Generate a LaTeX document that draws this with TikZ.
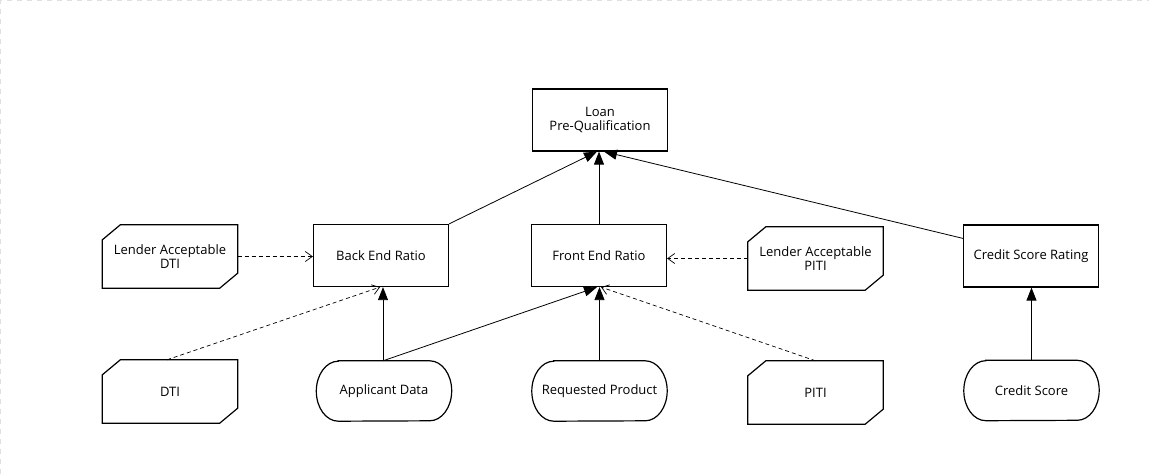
\documentclass[tikz,border=0pt]{standalone}
\usepackage{fontspec}
\setmainfont{Open Sans}
\usetikzlibrary{arrows.meta}
\tikzset{
  box/.style={draw, line width=1.2pt, minimum width=135pt, minimum height=62pt, inner sep=0pt, align=center, font=\fontsize{13}{14.5}\selectfont},
  free/.style={minimum width=135pt, minimum height=63pt, inner sep=0pt, align=center, font=\fontsize{13}{14.5}\selectfont},
  stad/.style={minimum width=135pt, minimum height=60pt, inner sep=0pt, align=center, font=\fontsize{13}{14.5}\selectfont},
  shapeline/.style={draw, line width=1.2pt},
  solidarrow/.style={line width=0.8pt, -{Triangle[length=13pt,width=10pt]}},
  dasharrow/.style={line width=0.7pt, dash pattern=on 4pt off 3pt, -{Straight Barb[length=7pt,width=10pt,line width=0.7pt]}},
  frameline/.style={draw=black!12, line width=1.2pt, dash pattern=on 5pt off 5pt}
}
\newcommand\cutshape[1]{\draw[shapeline] ([yshift=-15pt]#1.north west) -- ([xshift=18pt]#1.north west) -- (#1.north east) -- ([yshift=15pt]#1.south east) -- ([xshift=-18pt]#1.south east) -- (#1.south west) -- cycle;}
\newcommand\stadshape[1]{\draw[shapeline] ([xshift=22pt]#1.north west) -- ([xshift=-22pt]#1.north east) arc[start angle=90,end angle=-90,x radius=22pt,y radius=30pt] -- ([xshift=22pt]#1.south west) arc[start angle=270,end angle=90,x radius=22pt,y radius=30pt] -- cycle;}
\begin{document}
\begin{tikzpicture}[x=1pt,y=-1pt]
\useasboundingbox (0,0) rectangle (1149,474);
\coordinate (fa) at (0.6,0.6);
\coordinate (fb) at (1149,0.6);
\coordinate (fc) at (0.6,474);
\draw[frameline] (fc) -- (fa) -- (fb);

\node[box] (loan) at (600,120) {Loan\\Pre-Qualification};
\node[box] (ber) at (381,255.5) {Back End Ratio};
\node[box] (fer) at (599,255.5) {Front End Ratio};
\node[box] (csr) at (1031,256) {Credit Score Rating};

\node[free] (ldti) at (170,256.5) {Lender Acceptable\\DTI};
\node[free] (lpiti) at (815.5,258.5) {Lender Acceptable\\PITI};
\node[free] (dti) at (170,391.5) {DTI};
\node[free] (piti) at (815.5,392.5) {PITI};
\cutshape{ldti}
\cutshape{lpiti}
\cutshape{dti}
\cutshape{piti}

\node[stad] (ad) at (384,391) {Applicant Data};
\node[stad] (rp) at (599.5,391) {Requested Product};
\node[stad] (cs) at (1031.5,390.5) {Credit Score};
\stadshape{ad}
\stadshape{rp}
\stadshape{cs}

\draw[solidarrow] (ber.north east) -- ([xshift=-3pt]loan.south);
\draw[solidarrow] (fer.north) -- (fer.north |- loan.south);
\draw[solidarrow] ([yshift=-14pt]csr.north west) -- ([xshift=4pt]loan.south);

\draw[solidarrow] ([xshift=-1pt]ad.north) -- ([xshift=-1pt]ad.north |- ber.south);
\draw[solidarrow] ([xshift=-1pt]ad.north) -- ([xshift=-2pt]fer.south);
\draw[solidarrow] (rp.north) -- (rp.north |- fer.south);
\draw[solidarrow] (cs.north) -- (cs.north |- csr.south);

\draw[dasharrow] ([xshift=-3pt]dti.north) -- ([xshift=-1pt]ber.south);
\draw[dasharrow] (piti.north) -- ([xshift=2pt]fer.south);
\draw[dasharrow] (ldti.east) -- (ldti.east -| ber.west);
\draw[dasharrow] (lpiti.west) -- (lpiti.west -| fer.east);
\end{tikzpicture}
\end{document}
